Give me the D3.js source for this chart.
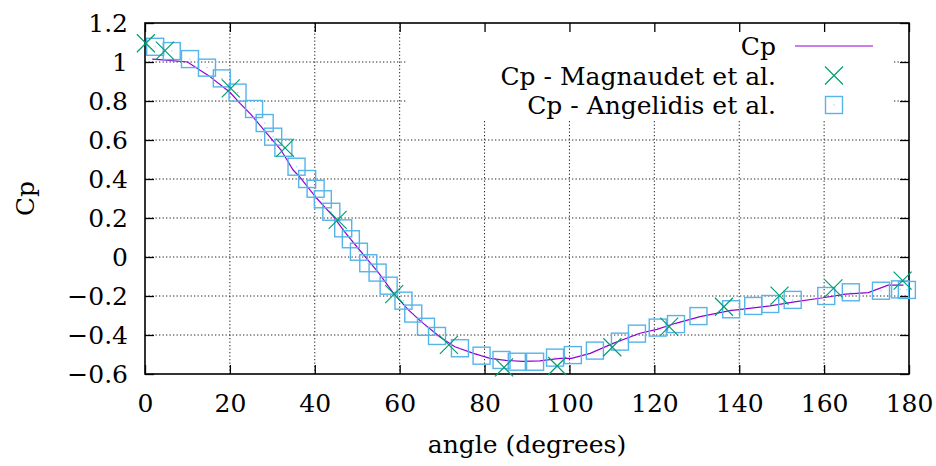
<!DOCTYPE html>
<html>
<head>
<meta charset="utf-8">
<script src="https://cdn.jsdelivr.net/npm/d3@7"></script>
<style>
  body { margin: 0; background: #fff; }
  svg text { font-family: "DejaVu Serif", "Liberation Serif", serif; }
</style>
</head>
<body>
<div id="chart"></div>
<script>
// Cp curve (simulation)
var cpAngle = [1.7, 5, 10, 15, 20, 22.4, 25, 28.7, 32, 34.9, 36.5, 40.5, 44.4, 47, 50, 55, 58.7, 62, 65, 69.5,
  73, 77.4, 81.3, 85, 89, 93, 97.8, 100.5, 104.9, 110.3, 116.6, 120.6, 125, 130.8, 137.8, 147.3, 153, 159.8,
  165, 170.4, 175.1, 178.7];
var cpValue = [1.015, 1.01, 1.0, 0.93, 0.845, 0.788, 0.73, 0.634, 0.55, 0.446, 0.41, 0.30, 0.207, 0.13, 0.05,
  -0.08, -0.19, -0.27, -0.33, -0.41, -0.46, -0.494, -0.52, -0.53, -0.535, -0.533, -0.52, -0.52, -0.494, -0.443,
  -0.391, -0.371, -0.34, -0.306, -0.275, -0.251, -0.23, -0.209, -0.19, -0.183, -0.144, -0.144];

// Magnaudet et al.
var magAngle = [0.2, 4.7, 20.2, 33.0, 45.4, 58.7, 71.6, 84.6, 97.1, 110.1, 123.5, 136.4, 149.5, 162.2, 178.5];
var magCp = [1.096, 1.058, 0.865, 0.56, 0.19, -0.19, -0.451, -0.566, -0.559, -0.463, -0.357, -0.255, -0.198, -0.161, -0.121];

// Angelidis et al.
var angAngle = [2.4, 6.3, 10.6, 14.6, 18.1, 21.8, 25.7, 28.2, 30.2, 32.6, 35.7, 38.2, 40.2, 41.9, 43.9, 46.7,
  48.5, 50.4, 52.6, 54.8, 57.4, 60.9, 63.2, 66.2, 68.8, 74.2, 79.3, 84.0, 87.6, 91.9, 96.6, 100.8, 106.0,
  111.9, 115.9, 120.8, 125.1, 130.4, 138.1, 143.3, 147.3, 152.6, 160.5, 166.3, 173.4, 177.9, 179.5];
var angCp = [1.078, 1.056, 1.015, 0.971, 0.916, 0.843, 0.759, 0.687, 0.617, 0.56, 0.463, 0.40, 0.35, 0.296,
  0.232, 0.147, 0.091, 0.027, -0.032, -0.08, -0.147, -0.224, -0.29, -0.358, -0.405, -0.468, -0.506, -0.528,
  -0.537, -0.537, -0.516, -0.503, -0.48, -0.434, -0.393, -0.362, -0.344, -0.303, -0.268, -0.251, -0.241,
  -0.22, -0.2, -0.181, -0.173, -0.166, -0.169];

var xTicks = [0, 20, 40, 60, 80, 100, 120, 140, 160, 180];
var yTicks = [-0.6, -0.4, -0.2, 0, 0.2, 0.4, 0.6, 0.8, 1, 1.2];
var seriesNames = ["Cp", "Cp - Magnaudet et al.", "Cp - Angelidis et al."];
var colors = ["#9400d3", "#009e73", "#56b4e9"];

var W = 936, H = 466;
var margin = {top: 23, right: 27, bottom: 92, left: 145};
var width = W - margin.left - margin.right,
    height = H - margin.top - margin.bottom;

var xScale = d3.scaleLinear().domain([0, 180]).range([0, width]);
var yScale = d3.scaleLinear().domain([-0.6, 1.2]).range([height, 0]);

var svg = d3.select("#chart").append("svg")
    .attr("width", W).attr("height", H)
  .append("g")
    .attr("transform", "translate(" + margin.left + "," + margin.top + ")");

// grid
svg.selectAll(".vgrid")
  .data(xTicks.slice(1, -1))
  .enter().append("line")
    .attr("x1", d => xScale(d)).attr("x2", d => xScale(d))
    .attr("y1", 0).attr("y2", height)
    .attr("stroke", "#222").attr("stroke-width", 1)
    .attr("stroke-dasharray", "1.3,2.2");
svg.selectAll(".hgrid")
  .data(yTicks.slice(1, -1))
  .enter().append("line")
    .attr("y1", d => yScale(d)).attr("y2", d => yScale(d))
    .attr("x1", 0).attr("x2", width)
    .attr("stroke", "#222").attr("stroke-width", 1)
    .attr("stroke-dasharray", "1.3,2.2");

// opaque key box
svg.append("rect")
  .attr("x", 262).attr("y", 0)
  .attr("width", 485).attr("height", 97)
  .attr("fill", "#fff");

// axes (inward ticks, mirrored)
var fmt = function(d) { return d < 0 ? "\u2212" + Math.abs(d) : "" + d; };

var xAxis = svg.append("g")
  .attr("transform", "translate(0," + height + ")")
  .call(d3.axisBottom(xScale).tickValues(xTicks).tickSizeInner(-9).tickSizeOuter(0).tickPadding(20).tickFormat(d => d));
var yAxis = svg.append("g")
  .call(d3.axisLeft(yScale).tickValues(yTicks).tickSizeInner(-9).tickSizeOuter(0).tickPadding(17).tickFormat(fmt));
svg.append("g")
  .call(d3.axisTop(xScale).tickValues(xTicks).tickSizeInner(-9).tickSizeOuter(0).tickFormat(""));
svg.append("g")
  .attr("transform", "translate(" + width + ",0)")
  .call(d3.axisRight(yScale).tickValues(yTicks).tickSizeInner(-9).tickSizeOuter(0).tickFormat(""));

svg.selectAll(".domain").remove();
svg.selectAll(".tick line").attr("stroke", "#000").attr("stroke-width", 1.3);
svg.selectAll("g").attr("font-family", null).attr("font-size", null);
svg.selectAll("g.tick text")
  .attr("font-size", "25px")
  .attr("fill", "#000");
xAxis.selectAll(".tick text").attr("dy", "0.71em");
yAxis.selectAll(".tick text").attr("dy", "0.33em");

svg.append("rect")
  .attr("x", 0).attr("y", 0).attr("width", width).attr("height", height)
  .attr("fill", "none").attr("stroke", "#000").attr("stroke-width", 1.6);

// Cp curve
var cpData = cpAngle.map((a, i) => [a, cpValue[i]]);
svg.append("path")
  .datum(cpData)
  .attr("fill", "none")
  .attr("stroke", colors[0])
  .attr("stroke-width", 1.2)
  .attr("d", d3.line().x(d => xScale(d[0])).y(d => yScale(d[1])));

// Angelidis squares
var sq = 8.5;
var angData = angAngle.map((a, i) => [a, angCp[i]]);
var sqs = svg.selectAll(".sq")
  .data(angData)
  .enter().append("g")
    .attr("transform", d => "translate(" + xScale(d[0]) + "," + yScale(d[1]) + ")");
sqs.append("rect")
  .attr("x", -sq).attr("y", -sq).attr("width", 2 * sq).attr("height", 2 * sq)
  .attr("fill", "none").attr("stroke", colors[2]).attr("stroke-width", 1.4);
sqs.append("rect")
  .attr("x", -0.6).attr("y", -0.6).attr("width", 1.2).attr("height", 1.2)
  .attr("fill", colors[2]).attr("opacity", 0.6);

// Magnaudet crosses
var cr = 9;
var magData = magAngle.map((a, i) => [a, magCp[i]]);
svg.selectAll(".cross")
  .data(magData)
  .enter().append("path")
    .attr("transform", d => "translate(" + xScale(d[0]) + "," + yScale(d[1]) + ")")
    .attr("d", "M" + -cr + "," + -cr + "L" + cr + "," + cr + "M" + -cr + "," + cr + "L" + cr + "," + -cr)
    .attr("fill", "none").attr("stroke", colors[1]).attr("stroke-width", 1.2);

// legend
var legend = svg.append("g");
var rowY = [23, 52.5, 82];
var textRight = 631, symX = 689;
legend.selectAll("text")
  .data(seriesNames)
  .enter().append("text")
    .attr("x", textRight)
    .attr("y", (d, i) => rowY[i] + 9)
    .attr("text-anchor", "end")
    .attr("font-size", "25px")
    .text(d => d);
legend.append("line")
  .attr("x1", 650).attr("x2", 728).attr("y1", rowY[0]).attr("y2", rowY[0])
  .attr("stroke", colors[0]).attr("stroke-width", 1.2);
legend.append("path")
  .attr("transform", "translate(" + symX + "," + rowY[1] + ")")
  .attr("d", "M" + -cr + "," + -cr + "L" + cr + "," + cr + "M" + -cr + "," + cr + "L" + cr + "," + -cr)
  .attr("fill", "none").attr("stroke", colors[1]).attr("stroke-width", 1.2);
legend.append("rect")
  .attr("x", symX - sq).attr("y", rowY[2] - sq).attr("width", 2 * sq).attr("height", 2 * sq)
  .attr("fill", "none").attr("stroke", colors[2]).attr("stroke-width", 1.4);
legend.append("rect")
  .attr("x", symX - 0.6).attr("y", rowY[2] - 0.6).attr("width", 1.2).attr("height", 1.2)
  .attr("fill", colors[2]).attr("opacity", 0.6);

// axis titles
d3.select("svg").append("text")
  .attr("x", margin.left + width / 2).attr("y", 453)
  .attr("text-anchor", "middle").attr("font-size", "25px")
  .text("angle (degrees)");
d3.select("svg").append("text")
  .attr("transform", "translate(34,198.5) rotate(-90)")
  .attr("text-anchor", "middle").attr("font-size", "25px")
  .text("Cp");
</script>
</body>
</html>
